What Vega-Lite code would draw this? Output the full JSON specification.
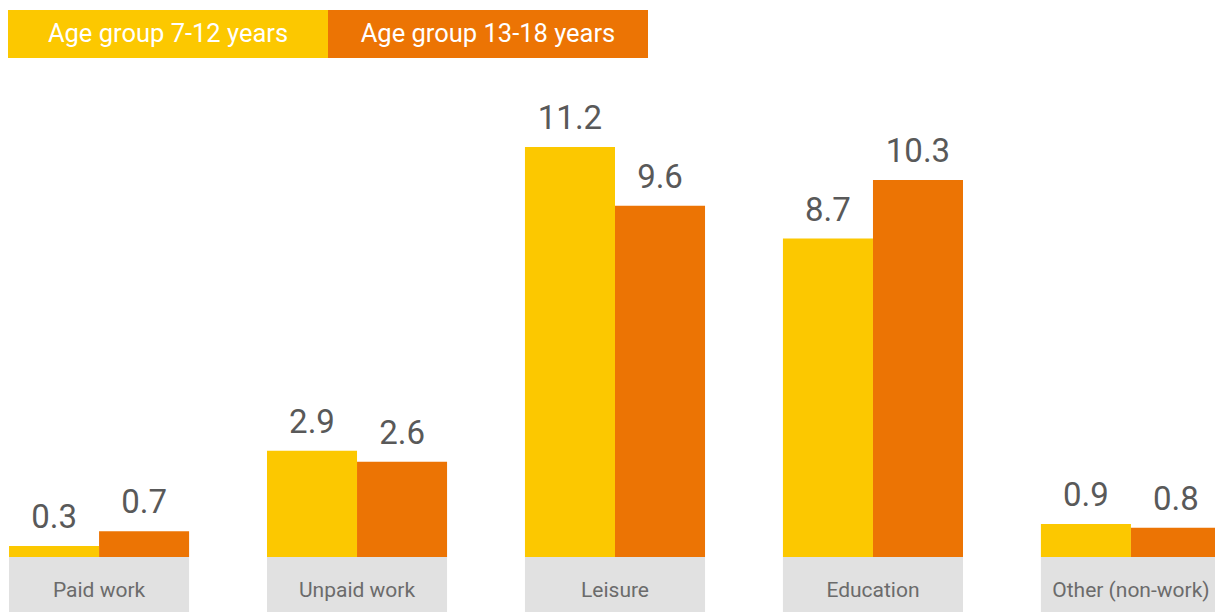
{
  "$schema": "https://vega.github.io/schema/vega-lite/v6.json",
  "width": 1215,
  "height": 612,
  "padding": 0,
  "autosize": {"type": "none"},
  "background": "white",
  "config": {"view": {"stroke": null}, "font": "Roboto"},
  "datasets": {
    "times": [
      {"category": "Paid work", "group": "Age group 7-12 years", "value": 0.3},
      {"category": "Paid work", "group": "Age group 13-18 years", "value": 0.7},
      {"category": "Unpaid work", "group": "Age group 7-12 years", "value": 2.9},
      {"category": "Unpaid work", "group": "Age group 13-18 years", "value": 2.6},
      {"category": "Leisure", "group": "Age group 7-12 years", "value": 11.2},
      {"category": "Leisure", "group": "Age group 13-18 years", "value": 9.6},
      {"category": "Education", "group": "Age group 7-12 years", "value": 8.7},
      {"category": "Education", "group": "Age group 13-18 years", "value": 10.3},
      {"category": "Other (non-work)", "group": "Age group 7-12 years", "value": 0.9},
      {"category": "Other (non-work)", "group": "Age group 13-18 years", "value": 0.8}
    ],
    "cats": [
      {"category": "Paid work"},
      {"category": "Unpaid work"},
      {"category": "Leisure"},
      {"category": "Education"},
      {"category": "Other (non-work)"}
    ]
  },
  "layer": [
    {
      "data": {"name": "cats"},
      "mark": {"type": "bar", "color": "#e1e1e1"},
      "encoding": {
        "x": {"field": "category", "type": "nominal", "axis": null,
              "scale": {"domain": ["Paid work", "Unpaid work", "Leisure", "Education", "Other (non-work)"], "range": [0, 1230], "paddingInner": 0.302, "paddingOuter": 0.035}},
        "y": {"datum": -1.503, "type": "quantitative", "axis": null,
              "scale": {"domain": [-1.503, 15.219], "nice": false, "zero": false}},
        "y2": {"datum": 0}
      }
    },
    {
      "data": {"name": "cats"},
      "mark": {"type": "text", "fontSize": 21, "color": "#6b6b6b", "baseline": "alphabetic", "align": "center"},
      "encoding": {
        "x": {"field": "category", "type": "nominal", "axis": null},
        "y": {"datum": -1.093, "type": "quantitative", "axis": null},
        "text": {"field": "category"}
      }
    },
    {
      "data": {"name": "times"},
      "mark": {"type": "bar"},
      "encoding": {
        "x": {"field": "category", "type": "nominal", "axis": null},
        "xOffset": {"field": "group", "type": "nominal", "sort": ["Age group 7-12 years", "Age group 13-18 years"], "scale": {"paddingInner": 0, "paddingOuter": 0}},
        "y": {"field": "value", "type": "quantitative", "axis": null},
        "color": {
          "field": "group", "type": "nominal",
          "scale": {"domain": ["Age group 7-12 years", "Age group 13-18 years"], "range": ["#fcc800", "#ec7404"]},
          "legend": {
            "orient": "none", "legendX": 8, "legendY": -126, "direction": "horizontal", "title": null,
            "symbolType": "M-1,-0.15L1,-0.15L1,0.15L-1,0.15Z", "symbolSize": 102400, "symbolStrokeWidth": 0,
            "symbolOpacity": 1,
            "labelOffset": -160, "labelAlign": "center", "labelColor": "white", "labelFontSize": 25.5,
            "labelLimit": 0, "columnPadding": 0, "padding": 0
          }
        }
      }
    },
    {
      "data": {"name": "times"},
      "mark": {"type": "text", "fontSize": 33, "color": "#595959", "baseline": "alphabetic", "align": "center", "dy": -18},
      "encoding": {
        "x": {"field": "category", "type": "nominal", "axis": null},
        "xOffset": {"field": "group", "type": "nominal", "sort": ["Age group 7-12 years", "Age group 13-18 years"]},
        "y": {"field": "value", "type": "quantitative", "axis": null},
        "text": {"field": "value", "type": "quantitative", "format": ".1f"}
      }
    }
  ]
}
